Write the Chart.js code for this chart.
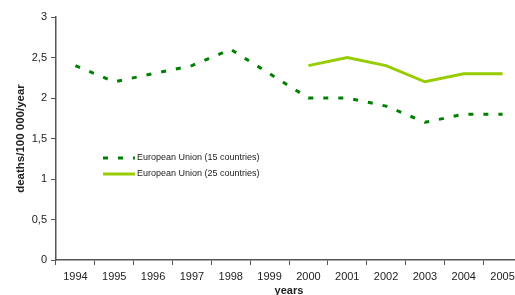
<!DOCTYPE html>
<html lang="en">
<head>
    <meta charset="UTF-8">
    <title>Deaths per 100 000 per year</title>
    <script src="https://cdn.jsdelivr.net/npm/chart.js"></script>
    <style>
        html, body {
            margin: 0;
            padding: 0;
            background: #ffffff;
            overflow: hidden;
        }
        .chart-box {
            position: relative;
            width: 530px;
            height: 295px;
        }
    </style>
</head>
<body>
    <div class="chart-box">
        <canvas id="deathsChart"></canvas>
    </div>

    <script>
        // Data
        const years = ['1994', '1995', '1996', '1997', '1998', '1999', '2000', '2001', '2002', '2003', '2004', '2005'];
        const eu15 = [2.4, 2.2, 2.3, 2.4, 2.6, 2.3, 2.0, 2.0, 1.9, 1.7, 1.8, 1.8];
        const eu25 = [null, null, null, null, null, null, 2.4, 2.5, 2.4, 2.2, 2.3, 2.3];
        const yTicks = ['0', '0,5', '1', '1,5', '2', '2,5', '3'];

        const axisColor = '#555555';
        const textColor = '#222222';
        const fontFamily = '"Liberation Sans", Arial, sans-serif';

        // Legend drawn inside the plot area, like the original
        const insideLegend = {
            id: 'insideLegend',
            afterDraw(chart) {
                const ctx = chart.ctx;
                const items = chart.data.datasets;
                ctx.save();
                ctx.font = '9px ' + fontFamily;
                ctx.textBaseline = 'middle';
                items.forEach((ds, i) => {
                    const y = 158 + i * 16;
                    ctx.beginPath();
                    ctx.strokeStyle = ds.borderColor;
                    ctx.lineWidth = ds.borderWidth;
                    ctx.setLineDash(ds.borderDash || []);
                    ctx.moveTo(103, y);
                    ctx.lineTo(135, y);
                    ctx.stroke();
                    ctx.setLineDash([]);
                    ctx.fillStyle = textColor;
                    ctx.fillText(ds.label, 137, y);
                });
                ctx.restore();
            }
        };

        const ctx = document.getElementById('deathsChart').getContext('2d');
        new Chart(ctx, {
            type: 'line',
            data: {
                labels: years,
                datasets: [{
                    label: 'European Union (15 countries)',
                    data: eu15,
                    borderColor: '#008000',
                    borderWidth: 3,
                    borderDash: [5, 10],
                    pointRadius: 0,
                    tension: 0,
                    fill: false
                }, {
                    label: 'European Union (25 countries)',
                    data: eu25,
                    borderColor: '#99cc00',
                    borderWidth: 3,
                    pointRadius: 0,
                    tension: 0,
                    fill: false,
                    spanGaps: false
                }]
            },
            options: {
                responsive: true,
                maintainAspectRatio: false,
                animation: false,
                layout: {
                    padding: { top: 17, right: 8, left: 14, bottom: 0 }
                },
                plugins: {
                    legend: { display: false },
                    tooltip: { enabled: false }
                },
                scales: {
                    x: {
                        offset: true,
                        grid: {
                            display: true,
                            offset: true,
                            drawOnChartArea: false,
                            tickLength: 5,
                            color: axisColor
                        },
                        border: { color: axisColor, width: 1.5 },
                        ticks: {
                            color: textColor,
                            font: { family: fontFamily, size: 11 },
                            maxRotation: 0,
                            autoSkip: false,
                            padding: 5
                        },
                        title: {
                            display: true,
                            text: 'years',
                            color: textColor,
                            font: { family: fontFamily, size: 11, weight: 'bold' },
                            padding: { top: 1, bottom: -3 }
                        },
                        afterFit(scale) { scale.height = 35; }
                    },
                    y: {
                        min: 0,
                        max: 3,
                        grid: {
                            display: true,
                            drawOnChartArea: false,
                            tickLength: 5,
                            color: axisColor
                        },
                        border: { color: axisColor, width: 1.5 },
                        ticks: {
                            stepSize: 0.5,
                            color: textColor,
                            font: { family: fontFamily, size: 11 },
                            padding: 4,
                            callback: (v, i) => yTicks[i]
                        },
                        title: {
                            display: true,
                            text: 'deaths/100 000/year',
                            color: textColor,
                            font: { family: fontFamily, size: 11.5, weight: 'bold' },
                            padding: { top: 0, bottom: 4 }
                        },
                        afterFit(scale) { scale.width = 42; }
                    }
                }
            },
            plugins: [insideLegend]
        });
    </script>
</body>
</html>
